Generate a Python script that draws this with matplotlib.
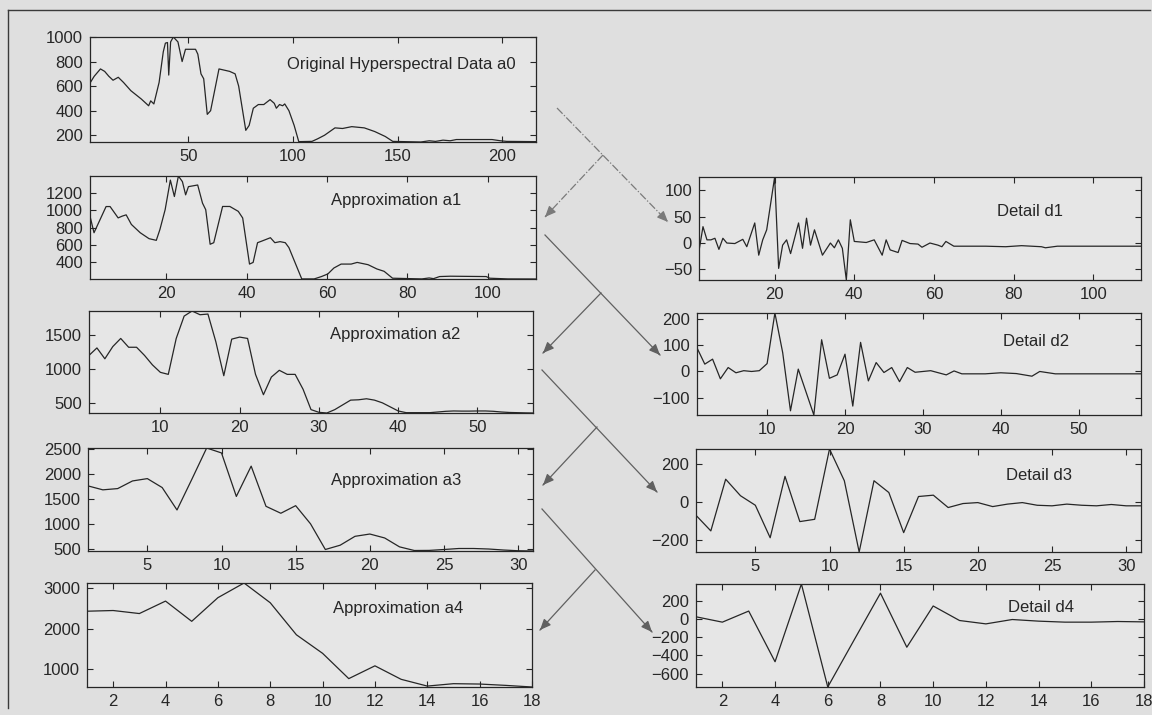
import matplotlib
matplotlib.use("Agg")
import matplotlib.pyplot as plt
from matplotlib.patches import FancyArrowPatch
from matplotlib.lines import Line2D

plt.rcParams["font.family"] = ["Liberation Sans", "DejaVu Sans"]

# ---------------------------------------------------------------- data
# original hyperspectral signature (band, value)
a0_x = [3, 5, 8, 10, 12, 14, 16.5, 19, 22.5, 27.5, 31, 32, 33.5, 36, 38, 39, 40, 40.6, 41.5, 42.8,
        45, 47, 48.6, 53.4, 54.5, 56, 57.3, 59, 60.6, 64.6, 69.7, 72.3, 74, 77.4, 79, 81, 83.4, 86, 89, 91,
        92, 93.5, 95, 96, 98, 100.5, 102.7, 109, 111.6, 115, 120, 123.6, 128, 134, 139, 144, 147.6, 161, 165, 168,
        171.6, 175, 178, 195, 199, 202, 216]
a0_y = [625, 680, 740, 720, 680, 648, 672, 630, 563, 495, 440, 480, 455, 630, 880, 950, 955, 690, 960, 1000,
        960, 800, 900, 900, 860, 700, 660, 370, 400, 740, 720, 700, 600, 240, 280, 420, 450, 450, 490, 460,
        420, 450, 440, 455, 400, 280, 148, 150, 170, 200, 260, 255, 270, 260, 230, 190, 150, 145, 155, 150,
        160, 155, 165, 165, 155, 150, 148]

# level-1 approximation
a1_x = [1, 2, 3.7, 5, 6, 8, 9, 10, 11.3, 13.5, 15.7, 17.5, 18.4, 19.7, 21, 22, 23, 24, 24.8, 25.5,
        27.8, 29, 29.8, 30.9, 31.8, 34, 35.8, 37.9, 39, 40.7, 41.6, 42.7, 43.8, 45.9, 47, 48.3, 49.6, 50.5, 53.7, 56.8,
        58.6, 60.2, 61.7, 63.5, 66, 67.5, 70.2, 72.4, 74.2, 76.3, 83.6, 85.4, 86.5, 88, 90.7, 99.6, 100.5, 105, 112]
a1_y = [930, 740, 910, 1040, 1040, 910, 930, 945, 835, 740, 672, 653, 777, 1004, 1343, 1155, 1390, 1325, 1174, 1268,
        1287, 1079, 1004, 608, 626, 1041, 1041, 985, 909, 381, 400, 626, 645, 683, 626, 638, 626, 570, 211, 211,
        238, 268, 336, 381, 381, 400, 374, 325, 298, 219, 211, 222, 214, 238, 242, 238, 219, 211, 210]

# level-2 .. level-4 approximations (one value per coefficient)
a2_y = [1200, 1310, 1150, 1330, 1450, 1320, 1320, 1200, 1060, 950, 920, 1450, 1780, 1855, 1800, 1810, 1400, 900,
        1440, 1470, 1450, 920, 620, 880, 980, 920, 920, 700, 400, 360, 350, 400, 470, 540, 545, 560, 540, 500,
        440, 380, 355, 355, 355, 355, 365, 375, 380, 378, 378, 380, 380, 375, 365, 358, 355, 352, 350]
a3_y = [1754, 1675, 1700, 1853, 1900, 1721, 1272, 1886, 2513, 2414, 1543, 2150, 1345, 1206, 1358, 995, 480,
        566, 744, 790, 711, 533, 460, 462, 480, 500, 500, 490, 470, 455, 450]
a4_y = [2433, 2450, 2375, 2683, 2183, 2767, 3130, 2642, 1850, 1392, 767, 1083, 750, 583, 642, 633, 600, 560]

# detail coefficients
d1_x = [1, 2, 3, 4, 5, 6, 7, 8, 10, 12, 13, 15, 16, 17, 18, 20, 21, 22, 23, 24,
        26, 27, 28, 29, 30, 32, 34, 35, 36, 37, 38, 39, 40, 43, 45, 47, 48, 49, 51, 52,
        54, 56, 57, 59, 61, 62, 63, 65, 69, 73, 78, 82, 87, 88, 91, 100, 112]
d1_y = [-15, 31, 6, 6, 9, -12, 9, 0, -1, 7, -7, 38, -23, 6, 25, 125, -48, -4, 6, -20,
        38, -10, 47, -4, 25, -23, 0, -9, 6, -10, -70, 44, 3, 1, 6, -23, 6, -13, -18, 5,
        -1, -2, -8, 0, -4, -7, 3, -6, -6, -6, -7, -5, -7, -9, -6, -6, -6]
d2_x = [1, 2, 3, 4, 5, 6, 7, 8, 9, 10, 11, 12, 13, 14, 16, 17, 18, 19, 20, 21,
        22, 23, 24, 25, 26, 27, 28, 29, 31, 33, 34, 35, 38, 40, 42, 44, 45, 47, 58]
d2_y = [90, 28, 47, -28, 15, -5, 3, 0, 3, 30, 223, 72, -150, 9, -166, 121, -26, -13, 66, -132,
        111, -36, 34, -4, 15, -39, 15, -3, 3, -13, 2, -9, -9, -5, -8, -18, 0, -9, -9]
d3_y = [-70, -152, 120, 33, -17, -188, 135, -103, -91, 279, 112, -263, 112, 50, -161, 29, 36, -29, -8, -3,
        -24, -11, -3, -17, -20, -11, -17, -20, -13, -20, -20]
d4_y = [25, -34, 88, -470, 386, -748, -230, 285, -310, 144, -16, -53, -5, -23, -34, -34, -27, -31]

a2_x = list(range(1, len(a2_y) + 1))
a3_x = list(range(1, len(a3_y) + 1))
a4_x = list(range(1, len(a4_y) + 1))
d3_x = list(range(1, len(d3_y) + 1))
d4_x = list(range(1, len(d4_y) + 1))

titles = ["Original Hyperspectral Data a0", "Approximation a1", "Approximation a2",
          "Approximation a3", "Approximation a4", "Detail d1", "Detail d2", "Detail d3", "Detail d4"]
xticks = [[50, 100, 150, 200], [20, 40, 60, 80, 100], [10, 20, 30, 40, 50], [5, 10, 15, 20, 25, 30],
          list(range(2, 19, 2)), [20, 40, 60, 80, 100], [10, 20, 30, 40, 50], [5, 10, 15, 20, 25, 30],
          list(range(2, 19, 2))]
yticks = [[200, 400, 600, 800, 1000], [400, 600, 800, 1000, 1200], [500, 1000, 1500],
          [500, 1000, 1500, 2000, 2500], [1000, 2000, 3000], [-50, 0, 50, 100], [-100, 0, 100, 200],
          [-200, 0, 200], [-600, -400, -200, 0, 200]]
series = [(a0_x, a0_y), (a1_x, a1_y), (a2_x, a2_y), (a3_x, a3_y), (a4_x, a4_y),
          (d1_x, d1_y), (d2_x, d2_y), (d3_x, d3_y), (d4_x, d4_y)]

# ---------------------------------------------------------------- layout (pixels)
W, H, DPI = 1152, 715, 100
boxes = [(90, 37, 536, 142), (90, 176, 536, 279), (89, 311, 533, 413), (88, 448, 533, 551),
         (87, 583, 532, 687), (699, 177, 1141, 280), (697, 313, 1141, 415), (696, 449, 1141, 552),
         (696, 584, 1144, 687)]
title_pos = [(401, 65), (396, 201), (395, 335), (396, 480), (398, 609),
             (1030, 212), (1036, 341), (1039, 475), (1041, 607)]

INK = "#262626"
PAPER = "#dfdfdf"


def fx(px):
    return px / W


def fy(py):
    return 1 - py / H


fig = plt.figure(figsize=(W / DPI, H / DPI), dpi=DPI, facecolor=PAPER)

for (xs, ys), (l, t, r, b), xt, yt, title, (tx, ty) in zip(series, boxes, xticks, yticks, titles, title_pos):
    ax = fig.add_axes([fx(l), fy(b), (r - l) / W, (b - t) / H])
    ax.set_facecolor("#e6e6e6")
    ax.plot(xs, ys, color=INK, lw=0.9)
    ax.set_xlim(xs[0], xs[-1])
    ax.set_ylim(min(ys), max(ys))
    ax.set_xticks(xt)
    ax.set_yticks(yt)
    ax.tick_params(direction="in", length=4, width=0.8, top=True, right=True,
                   labelsize=12, colors=INK, pad=5)
    for s in ax.spines.values():
        s.set_color(INK)
        s.set_linewidth(0.9)
    fig.text(fx(tx), fy(ty), title, ha="center", va="center", fontsize=12, color=INK)

# ---------------------------------------------------------------- decomposition arrows
ARROW = "#606060"


def head(p0, p1, color):
    a = FancyArrowPatch((fx(p0[0]), fy(p0[1])), (fx(p1[0]), fy(p1[1])), transform=fig.transFigure,
                        arrowstyle="-|>,head_length=0.65,head_width=0.28", mutation_scale=10,
                        color=color, lw=0.9, shrinkA=0, shrinkB=0)
    fig.add_artist(a)


def arrow(p0, p1, color, style="-"):
    fig.add_artist(Line2D([fx(p0[0]), fx(p1[0])], [fy(p0[1]), fy(p1[1])], transform=fig.transFigure,
                          color=color, lw=0.9, linestyle=style))
    dx, dy = p1[0] - p0[0], p1[1] - p0[1]
    n = (dx * dx + dy * dy) ** 0.5
    head((p1[0] - dx / n * 2, p1[1] - dy / n * 2), p1, color)


links = [((557, 108), (668, 222), (603, 155), (545, 217), "-."),
         ((545, 235), (660, 355), (601, 293), (543, 353), "-"),
         ((542, 370), (657, 492), (597, 427), (543, 485), "-"),
         ((542, 509), (652, 632), (595, 570), (540, 630), "-")]
for start, detail, fork, approx, style in links:
    col = "#7a7a7a" if style == "-." else ARROW
    arrow(start, detail, col, style)
    arrow(fork, approx, col, style)

# page frame
frame = dict(transform=fig.transFigure, color="#3a3a3a", lw=1.0)
fig.add_artist(Line2D([fx(8), fx(1150)], [fy(10), fy(10)], **frame))
fig.add_artist(Line2D([fx(8), fx(8)], [fy(10), fy(708)], **frame))

fig.savefig("out.png", dpi=DPI, facecolor=PAPER)
